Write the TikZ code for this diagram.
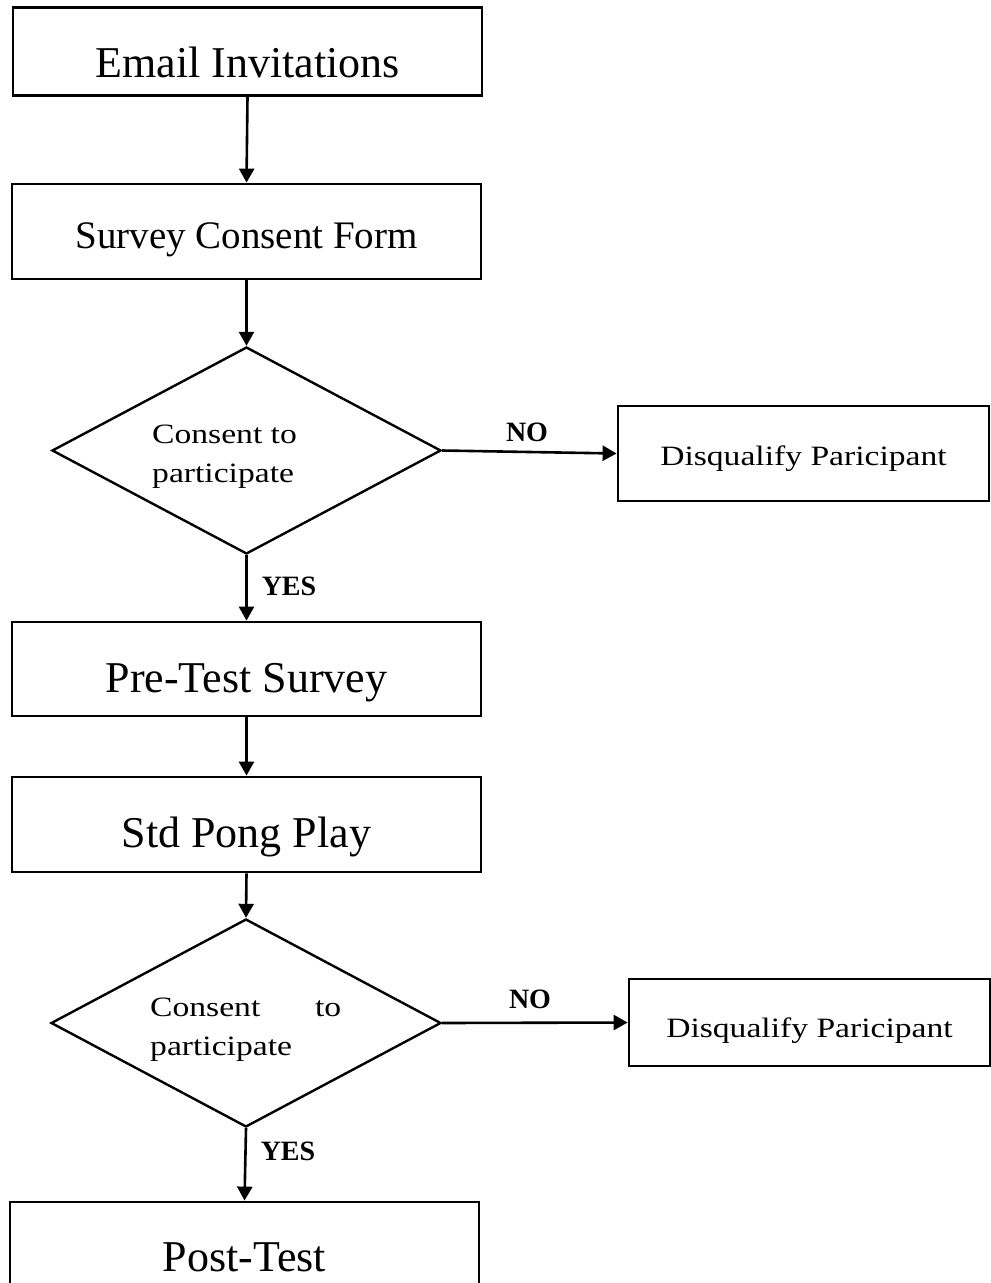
\documentclass[tikz,border=0pt]{standalone}
\usepackage{fontspec}
\setmainfont{Liberation Serif}
\newfontfamily\widef[FakeStretch=1.2]{Liberation Serif}
\usetikzlibrary{shapes.geometric,arrows.meta}
\tikzset{
  box/.style={draw, line width=2.8pt, inner sep=0pt, minimum width=469pt, minimum height=95pt,
    font=\fontsize{44}{50}\selectfont, text depth=0pt},
  dqbox/.style={draw, line width=2.8pt, inner sep=0pt, font=\widef\fontsize{28}{34}\selectfont, text depth=0pt},
  dia/.style={draw, diamond, line width=2.4pt, inner sep=0pt},
  arr/.style={line width=2.6pt, -{Triangle[length=14pt,width=15pt]}},
  lbl/.style={font=\bfseries\fontsize{28}{32}\selectfont, inner sep=0pt, anchor=base},
  dtext/.style={font=\widef\fontsize{28}{39}\selectfont, inner sep=0pt, anchor=base west, align=left}
}
\begin{document}
\begin{tikzpicture}[x=1pt,y=-1pt]
\useasboundingbox (0,0) rectangle (991,1283);
\clip (0,0) rectangle (991,1283);
\node[box, minimum height=88pt, text height=51pt] (email) at (247.5,51.5) {Email Invitations};
\node[box, text height=33pt, font=\fontsize{39}{45}\selectfont] (scf) at (246.5,231.5) {Survey Consent Form};
\node[dia, minimum width=389pt, minimum height=207pt] (d1) at (246.5,450.5) {};
\node[dtext] (t1) at (152,482) {Consent to\\participate};
\node[dqbox, minimum width=371pt, minimum height=95pt, text height=23pt] (dq1) at (803.5,453.5) {Disqualify Paricipant};
\node[box, minimum height=94pt, text height=46pt] (pre) at (246.5,669) {Pre-Test Survey};
\node[box, text height=45pt] (std) at (246.5,824.5) {Std Pong Play};
\node[dia, minimum width=390pt, minimum height=208pt] (d2) at (246,1023) {};
\node[dtext] (t2) at (150,1055) {\hbox to 191pt{Consent\hfill to}\\participate};
\node[dqbox, minimum width=361pt, minimum height=87pt, text height=29pt] (dq2) at (809.5,1022.5) {Disqualify Paricipant};
\node[box, minimum height=140pt, text height=0pt, text depth=2pt] (post) at (244.5,1272) {Post-Test};
\node[lbl] (no1) at (527,441) {NO};
\node[lbl] (yes1) at (289,595) {YES};
\node[lbl] (no2) at (530,1008) {NO};
\node[lbl] (yes2) at (288,1160) {YES};
\draw[arr] (email.south) -- (scf.north);
\draw[arr] (scf.south) -- (d1.north);
\draw[arr] (d1.east) -- (dq1.west);
\draw[arr] (d1.south) -- (pre.north);
\draw[arr] (pre.south) -- (std.north);
\draw[arr] (std.south) -- (d2.north);
\draw[arr] (d2.east) -- (dq2.west);
\draw[arr] (d2.south) -- (post.north);
\end{tikzpicture}
\end{document}
